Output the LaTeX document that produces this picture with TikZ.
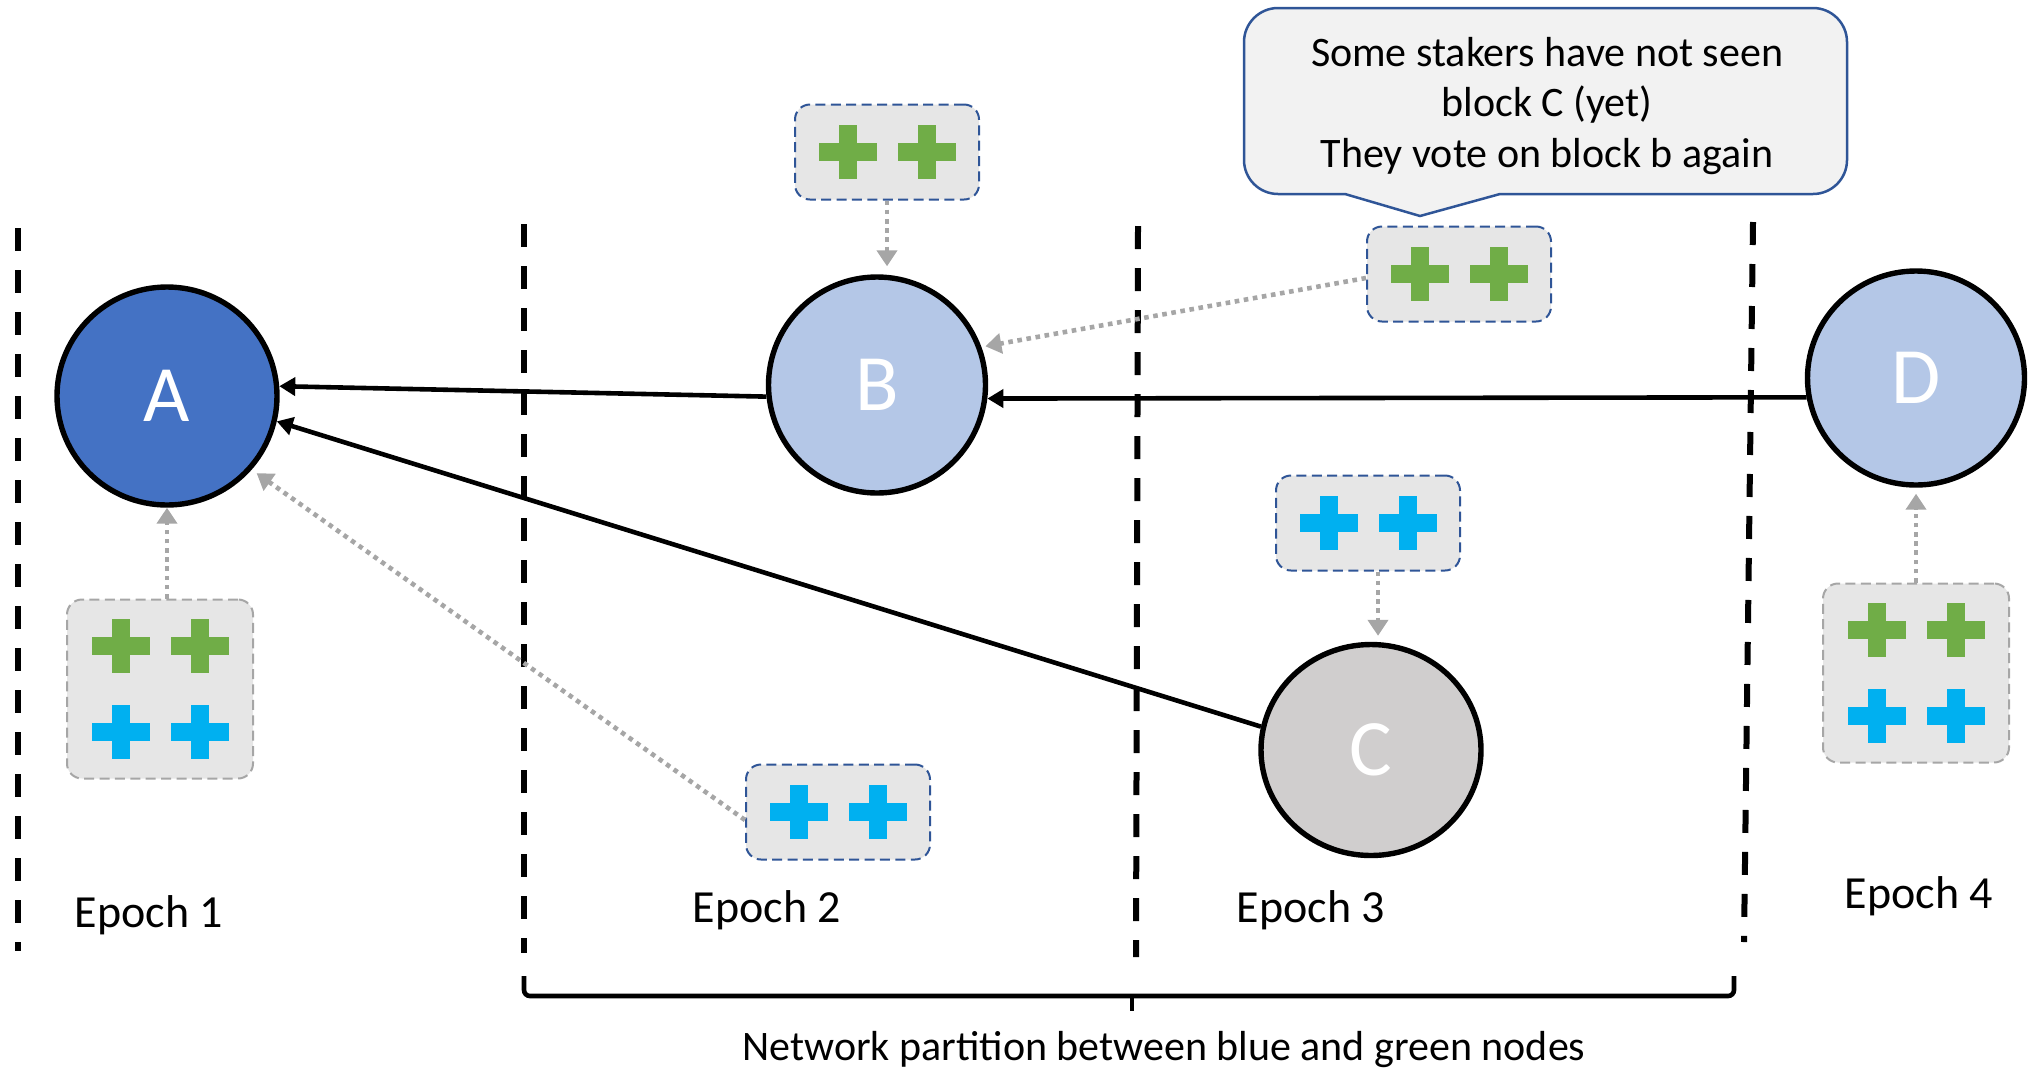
\documentclass[tikz,border=0pt]{standalone}
\usepackage{fontspec}
\setmainfont{Carlito}
\usetikzlibrary{shapes.geometric,arrows.meta}

\definecolor{blockDark}{HTML}{4472C4}
\definecolor{blockLight}{HTML}{B4C7E7}
\definecolor{blockGrey}{HTML}{D0CECE}
\definecolor{voteFill}{HTML}{E6E6E6}
\definecolor{voteGreen}{HTML}{70AD47}
\definecolor{voteBlue}{HTML}{00B0F0}
\definecolor{frameBlue}{HTML}{2F5597}
\definecolor{frameGrey}{HTML}{A6A6A6}
\definecolor{noteFill}{HTML}{F2F2F2}

\tikzset{
  ballot/.pic={
    \fill[pic actions] (-29,-9) rectangle (29,9);
    \fill[pic actions] (-9,-27) rectangle (9,27);
  }
}

\begin{document}
\begin{tikzpicture}[x=0.5pt,y=-0.5pt,
  block/.style={ellipse, draw=black, line width=2.7pt, inner sep=0pt,
    text=white, font=\fontsize{40}{48}\selectfont},
  votes/.style={rectangle, rounded corners=7.5pt, fill=voteFill,
    line width=1pt, dash pattern=on 5pt off 2.7pt,
    minimum width=92pt, minimum height=47.5pt},
  bigvotes/.style={votes, minimum width=93pt, minimum height=89.5pt},
  link/.style={draw=black, line width=2.3pt, -{Triangle[length=8pt,width=9pt]}},
  voteline/.style={draw=frameGrey, line width=2.3pt, dash pattern=on 2.3pt off 2.3pt,
    -{Triangle[length=8pt,width=10pt]}},
  divider/.style={line width=3pt, dash pattern=on 11.5pt off 9.5pt},
  epoch/.style={font=\fontsize{23}{27}\selectfont},
]
\useasboundingbox (0,0) rectangle (2028,1072);

% epoch dividers
\draw[divider] (18,228) -- (18,951);
\draw[divider] (524,224) -- (524,953);
\draw[divider] (1138,226) -- (1136,957);
\draw[divider] (1753,222) -- (1744,942);

% partition bracket
\draw[line width=2.3pt, rounded corners=3pt]
  (524,976) -- (524,996) -- (1734,996) -- (1734,976);
\draw[line width=2.3pt] (1132,996) -- (1132,1011);
\node[font=\fontsize{21}{25}\selectfont] (partition) at (1164,1050)
  {Network partition between blue and green nodes};

% epoch labels
\node[epoch] (e1) at (149,915) {Epoch 1};
\node[epoch] (e2) at (767,910) {Epoch 2};
\node[epoch] (e3) at (1311,910) {Epoch 3};
\node[epoch] (e4) at (1919,896) {Epoch 4};

% blocks
\node[block, fill=blockDark, minimum width=110pt, minimum height=109pt] (A) at (167,396) {A};
\node[block, fill=blockLight, minimum width=108.5pt, minimum height=108pt] (B) at (877,385) {B};
\node[block, fill=blockGrey, minimum width=110pt, minimum height=105.5pt] (C) at (1371,750) {C};
\node[block, fill=blockLight, minimum width=108.5pt, minimum height=107pt] (D) at (1916,378) {D};

% chain links
\draw[link] (B.186) -- (A.5);
\draw[link] (C.168) -- (A.-13);
\draw[link] (D.190) -- (B.-7);

% callout
\draw[draw=frameBlue, fill=noteFill, line width=1.25pt]
  (1420,216) -- (1500,194) [rounded corners=17pt] -- (1847,194) -- (1847,8)
  -- (1244,8) -- (1244,194) [sharp corners] -- (1345,194) -- cycle;
\node[font=\fontsize{21}{25.2}\selectfont, align=center] (note) at (1547,106)
  {Some stakers have not seen\\block C (yet)\\They vote on block b again};

% vote boxes
\node[bigvotes, draw=frameGrey] (VA) at (160,689) {};
\node[bigvotes, draw=frameGrey] (VD) at (1916,673) {};
\node[votes, draw=frameBlue] (VB) at (887,152) {};
\node[votes, draw=frameBlue] (VC) at (1368,523) {};
\node[votes, draw=frameBlue] (VG) at (1459,274) {};
\node[votes, draw=frameBlue] (VE) at (838,812) {};

% votes inside the boxes
\foreach \bx/\by in {160/689, 1916/673} {
  \pic[fill=voteGreen] at (\bx-39.5,\by-43) {ballot};
  \pic[fill=voteGreen] at (\bx+39.5,\by-43) {ballot};
  \pic[fill=voteBlue] at (\bx-39.5,\by+43) {ballot};
  \pic[fill=voteBlue] at (\bx+39.5,\by+43) {ballot};
}
\foreach \bx/\by/\col in {887/152/voteGreen, 1459/274/voteGreen,
                          1368/523/voteBlue, 838/812/voteBlue} {
  \pic[fill=\col] at (\bx-39.5,\by) {ballot};
  \pic[fill=\col] at (\bx+39.5,\by) {ballot};
}

% votes cast on blocks
\draw[voteline] (A.south |- VA.north) -- (A.south);
\draw[voteline, shorten >=4pt] (VB.south) -- (VB.south |- B.north);
\draw[voteline, shorten >=3pt] ([xshift=5pt]VC.south) -- ([xshift=5pt]VC.south |- C.north);
\draw[voteline, shorten >=2pt] ([yshift=-2pt]VG.west) -- (B.20);
\draw[voteline, shorten >=3pt] ([yshift=-4pt]VE.west) -- (A.-41);
\draw[voteline, shorten >=3pt] (VD.north) -- (D.south);
\end{tikzpicture}
\end{document}
